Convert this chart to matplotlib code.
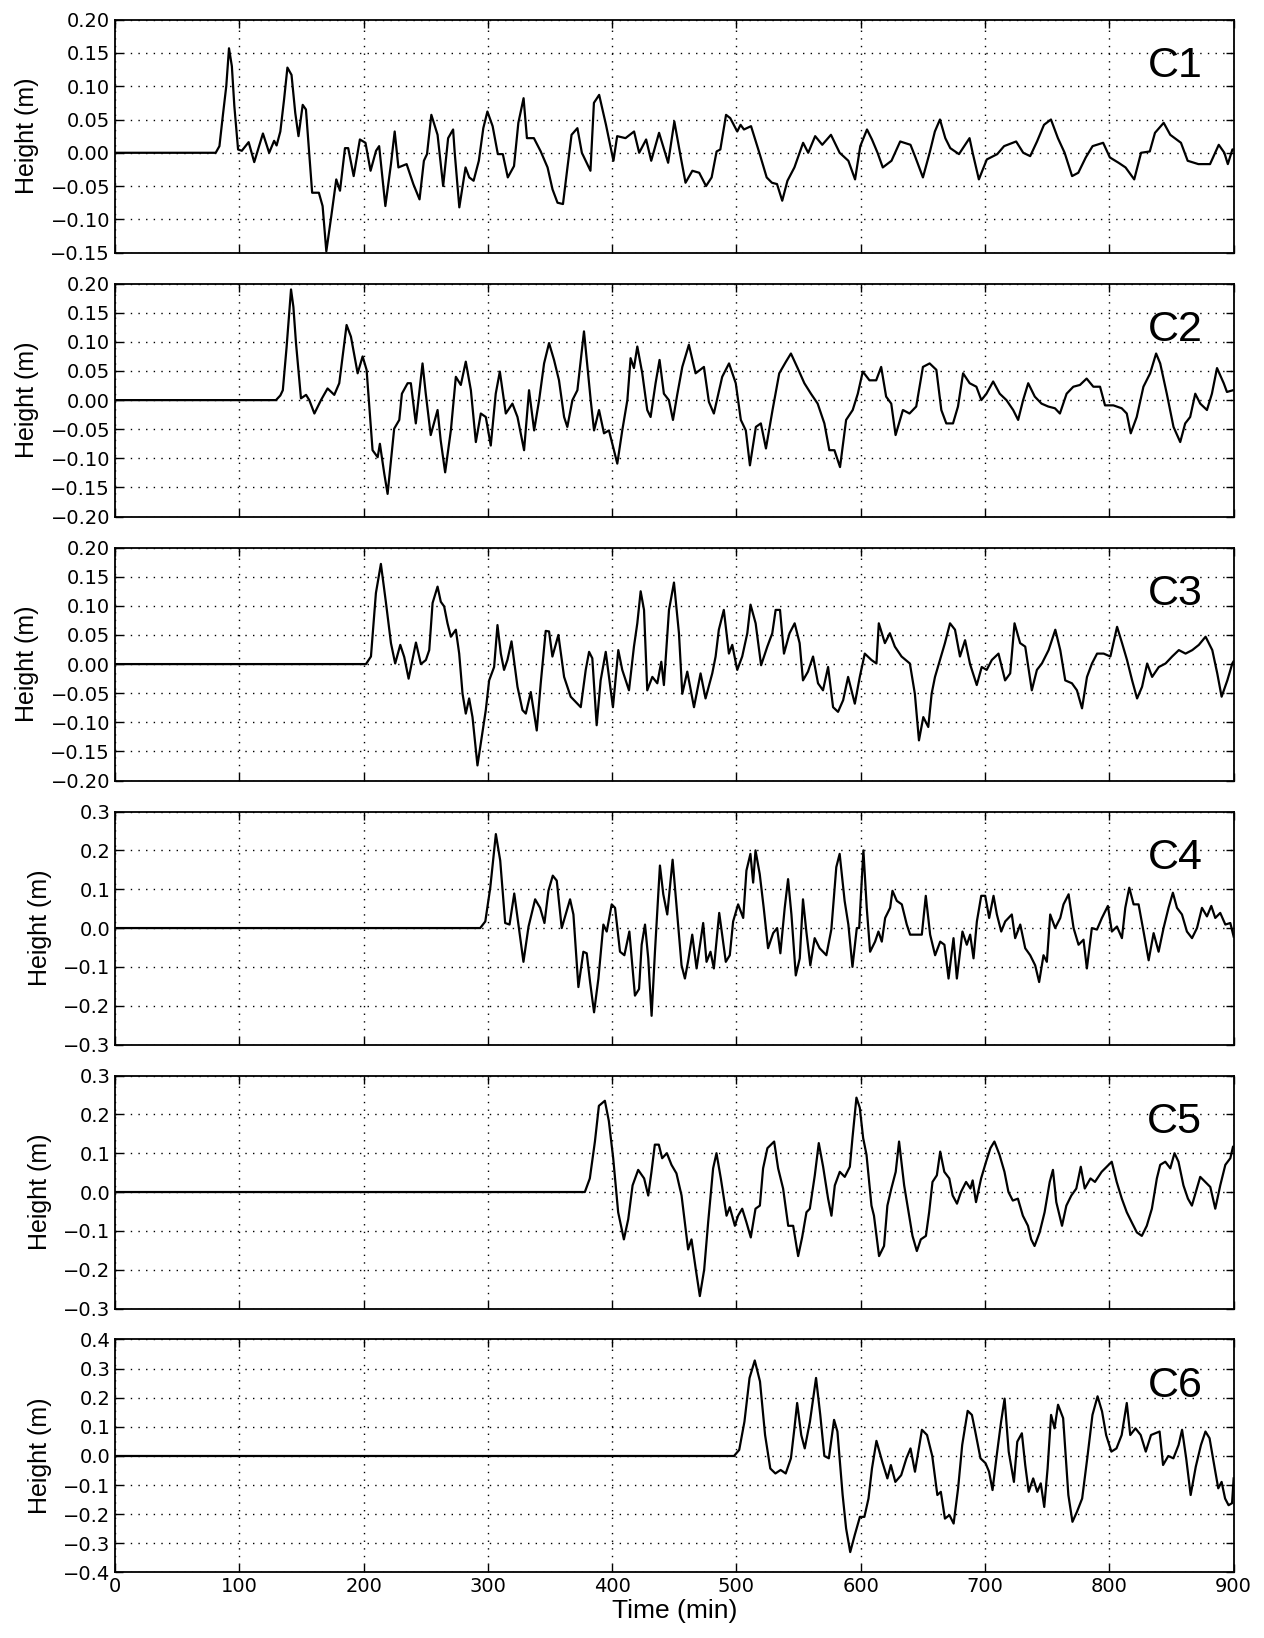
"""
Six stacked wave-gauge records C1..C6: height (m) against time (min).
"""

import matplotlib
matplotlib.use("Agg")
import matplotlib.pyplot as plt

# ---- data (time in min, height in m) ----
c1_t = [0, 81, 84, 87, 89.5, 91.7, 94, 96, 99, 102, 107.5, 112, 119, 124, 128, 130, 133, 136, 138.7, 142, 145,
        147.6, 151, 153.6, 158.6, 164, 167, 170, 174, 178, 181, 185, 187.6, 192, 197, 201.5, 205.6, 210, 212.5,
        217.5, 222, 225, 228, 234.6, 240, 245, 248.5, 251, 254.5, 259.5, 264, 268, 272, 273.3, 277, 282, 285,
        288.5, 292.7, 296.3, 299.6, 303.8, 308, 312, 316, 321, 324.5, 328.7, 331.4, 337, 342.5, 348, 352, 356,
        360.4, 364, 367.3, 372, 375.6, 382.5, 385.3, 389.5, 395, 401, 404, 410.7, 417.6, 421.7, 427.3, 431.4,
        437.7, 445, 450, 455, 459, 464.5, 470, 475.5, 480, 484, 487, 491.6, 495, 500.6, 503.3, 506, 511.7, 518.7,
        524.3, 528.5, 532.6, 536.8, 541, 546.6, 553.6, 557.7, 563.3, 569, 576, 583, 590, 595.4, 599.6, 605, 609,
        613.5, 617.7, 624.7, 631.7, 640, 644, 650, 655.4, 659.6, 663.7, 668, 672, 679, 687.5, 690, 695, 701.4,
        709.8, 715.3, 725, 730.7, 736.3, 741.8, 747.4, 753, 758.6, 764, 770, 775, 781, 786.5, 795, 800.4, 807.4,
        813, 820, 825.5, 832.5, 836.7, 843.7, 849, 857.6, 863, 871.6, 881, 888, 892.5, 895.3, 899, 900]
c1_h = [0, 0, 0.01, 0.06, 0.1, 0.157, 0.13, 0.07, 0.005, 0.003, 0.016, -0.014, 0.029, 0, 0.018, 0.011, 0.032, 0.08,
        0.128, 0.117, 0.06, 0.025, 0.072, 0.065, -0.06, -0.06, -0.08, -0.148, -0.095, -0.04, -0.057, 0.007, 0.007,
        -0.035, 0.02, 0.015, -0.027, 0.003, 0.01, -0.08, -0.017, 0.032, -0.022, -0.017, -0.047, -0.07, -0.012,
        -0.002, 0.057, 0.027, -0.05, 0.022, 0.035, 0, -0.082, -0.022, -0.037, -0.042, -0.012, 0.037, 0.062, 0.04,
        -0.002, -0.002, -0.037, -0.02, 0.045, 0.082, 0.022, 0.022, 0.002, -0.022, -0.055, -0.075, -0.077, -0.022,
        0.027, 0.037, 0, -0.027, 0.075, 0.087, 0.042, -0.012, 0.025, 0.022, 0.032, 0, 0.02, -0.012, 0.03, -0.015,
        0.047, -0.005, -0.045, -0.027, -0.03, -0.05, -0.037, 0.002, 0.005, 0.057, 0.052, 0.032, 0.042, 0.035,
        0.04, -0.002, -0.037, -0.045, -0.047, -0.072, -0.042, -0.022, 0.015, 0, 0.025, 0.012, 0.027, 0, -0.012,
        -0.04, 0.01, 0.035, 0.02, 0, -0.022, -0.012, 0.017, 0.012, -0.007, -0.037, 0, 0.032, 0.05, 0.022, 0.007,
        -0.002, 0.022, 0, -0.04, -0.01, -0.002, 0.01, 0.017, 0, -0.005, 0.017, 0.042, 0.05, 0.022, 0, -0.035,
        -0.03, -0.007, 0.01, 0.015, -0.007, -0.015, -0.022, -0.04, 0, 0.002, 0.03, 0.045, 0.027, 0.015, -0.012,
        -0.017, -0.017, 0.012, 0, -0.017, 0.005, 0.005]

c2_t = [0, 129.5, 133, 135, 138, 141.6, 143.5, 145.6, 149.6, 153.7, 156.3, 160.4, 165.7, 171, 176.4, 180.4, 186.3,
        189.8, 195.2, 199.2, 202.4, 207.2, 211.3, 213.1, 216.6, 219.3, 224.6, 228.7, 230.8, 235.4, 238, 242, 247.4,
        250, 254, 259.5, 262, 265.6, 270.2, 274.2, 278.2, 282.2, 286.3, 290.3, 294.3, 298.3, 302.3, 306.3, 309.6,
        314.4, 319.7, 323.8, 329.1, 333.1, 337.2, 341.2, 345.2, 349.2, 353.2, 357.2, 361.3, 363.9, 368, 372, 377.3,
        382.7, 385.4, 389.4, 393.4, 397.4, 401.4, 404.1, 408.1, 412.2, 414.8, 417.5, 420.2, 424.2, 428.2, 430.9,
        434.9, 438.1, 441.6, 445.6, 448.9, 452.3, 456.4, 461.7, 467.1, 473.8, 477.8, 481.8, 488.5, 494, 499.4,
        503.5, 507.5, 510.8, 515.6, 519.6, 523.7, 529, 534.4, 539.8, 543.8, 549.2, 554.6, 559.9, 565.3, 570.7,
        574.7, 578.8, 583.3, 588.2, 593.5, 597.6, 601.6, 607, 612.4, 616.4, 620.4, 624.5, 628, 633.9, 639.2, 644.6,
        650, 655.4, 660.8, 664.8, 668.8, 674.2, 678.2, 682.3, 687.6, 693, 697, 701.1, 706.5, 711.8, 717.2, 722.6,
        726.6, 730.6, 734.7, 740, 745.4, 750.8, 756.2, 760.2, 765.6, 771, 776.3, 781.7, 787.1, 792.5, 796.5, 803.2,
        809.9, 814, 817.2, 822, 827.4, 832.8, 837.6, 840.9, 846.2, 851.6, 857, 861, 865, 869.1, 873.1, 878.5,
        882.5, 886.6, 892, 894.6, 899.5, 900]
c2_h = [0, 0, 0.008, 0.017, 0.09, 0.19, 0.16, 0.098, 0.003, 0.009, 0, -0.023, 0, 0.02, 0.009, 0.029, 0.129, 0.109,
        0.046, 0.075, 0.052, -0.086, -0.098, -0.075, -0.126, -0.161, -0.049, -0.034, 0.011, 0.029, 0.029, -0.04,
        0.063, 0.011, -0.06, -0.017, -0.069, -0.124, -0.052, 0.04, 0.026, 0.066, 0.017, -0.072, -0.023, -0.029,
        -0.078, 0.011, 0.049, -0.023, -0.006, -0.029, -0.086, 0.017, -0.052, 0, 0.063, 0.098, 0.069, 0.034,
        -0.029, -0.046, 0, 0.017, 0.118, 0, -0.052, -0.017, -0.057, -0.052, -0.086, -0.109, -0.052, 0, 0.072,
        0.055, 0.092, 0.046, -0.017, -0.029, 0.029, 0.069, 0.011, 0, -0.034, 0.009, 0.057, 0.095, 0.046, 0.057,
        -0.003, -0.023, 0.04, 0.063, 0.029, -0.034, -0.052, -0.112, -0.046, -0.04, -0.083, -0.017, 0.046, 0.066,
        0.08, 0.055, 0.029, 0.011, -0.006, -0.04, -0.086, -0.086, -0.115, -0.034, -0.017, 0.011, 0.049, 0.034,
        0.034, 0.057, 0.006, -0.006, -0.06, -0.017, -0.023, -0.011, 0.057, 0.063, 0.052, -0.017, -0.04, -0.04,
        -0.011, 0.046, 0.029, 0.023, 0, 0.011, 0.032, 0.011, 0, -0.017, -0.034, 0, 0.029, 0.006, -0.006, -0.011,
        -0.014, -0.023, 0.011, 0.023, 0.026, 0.037, 0.023, 0.023, -0.009, -0.009, -0.014, -0.023, -0.057, -0.029,
        0.023, 0.046, 0.08, 0.063, 0.011, -0.046, -0.072, -0.04, -0.029, 0.011, -0.006, -0.017, 0.011, 0.055,
        0.029, 0.014, 0.017, 0.017]

c3_t = [0, 201.9, 205.9, 209.9, 213.9, 218, 222, 225.4, 229.5, 232.7, 236.2, 242.1, 246.1, 250.1, 252.8, 255.5,
        259.5, 262.1, 264.8, 267.5, 270.2, 274.2, 276.9, 279.6, 282.2, 284.9, 287.6, 291.6, 295.1, 298.3, 301, 305,
        307.7, 310.4, 313, 315.7, 319, 323.8, 327.8, 330.5, 334.5, 339.3, 342.5, 346.5, 349.2, 351.9, 356.7, 361.3,
        366.6, 374.7, 378.7, 381.4, 384, 387.5, 390.7, 394.8, 397.4, 400.6, 404.9, 408.1, 413.5, 417.5, 420.2,
        422.9, 425.6, 428.2, 432.3, 436.3, 439.5, 441.6, 445.7, 449.7, 453.7, 456.4, 460.4, 465.8, 471.1, 475.1,
        480.5, 483.2, 485.8, 489.8, 493.9, 496.6, 500.6, 504.6, 508.7, 511.3, 515.4, 519.8, 524.8, 528.8, 531.5,
        535, 538.2, 542.7, 546.8, 550.8, 553.5, 557.5, 561.6, 565.6, 569.6, 573.7, 577.7, 581.7, 585.8, 589.8,
        595.2, 599.2, 603.2, 608.6, 612.6, 614.5, 619.4, 623.4, 627.4, 632.8, 639.5, 643.5, 646.8, 650.3, 654.3,
        657, 659.7, 663.7, 667.7, 671.8, 675.8, 679.8, 683.9, 687.9, 693.3, 697.3, 701.3, 705.4, 710.8, 716.1,
        720.2, 723.7, 728.2, 732.3, 737.6, 741.7, 745.7, 751.1, 756.5, 760.5, 764.5, 769.9, 773.9, 778, 782, 786,
        790.1, 795.4, 800.8, 806.2, 810.2, 814.2, 818.3, 822.3, 826.3, 830.4, 834.4, 839.8, 845.2, 850.5, 855.9,
        861.3, 866.7, 872, 877.4, 882.8, 886.8, 890.3, 894.9, 898.9, 900]
c3_h = [0, 0, 0.013, 0.122, 0.172, 0.105, 0.036, 0.001, 0.033, 0.012, -0.025, 0.037, 0, 0.007, 0.024, 0.105, 0.133,
        0.107, 0.099, 0.07, 0.047, 0.059, 0.018, -0.051, -0.085, -0.059, -0.091, -0.174, -0.125, -0.079, -0.028,
        -0.005, 0.067, 0.018, -0.01, 0.007, 0.039, -0.039, -0.079, -0.085, -0.048, -0.114, -0.033, 0.057, 0.056,
        0.013, 0.05, -0.022, -0.056, -0.074, -0.01, 0.021, 0.01, -0.105, -0.028, 0.021, -0.022, -0.074, 0.024,
        -0.01, -0.045, 0.03, 0.07, 0.125, 0.093, -0.045, -0.022, -0.033, 0.004, -0.036, 0.093, 0.14, 0.053,
        -0.051, -0.013, -0.074, -0.016, -0.059, -0.016, 0.013, 0.059, 0.093, 0.018, 0.033, -0.01, 0.013, 0.053,
        0.102, 0.07, -0.002, 0.03, 0.053, 0.093, 0.093, 0.018, 0.053, 0.07, 0.036, -0.028, -0.013, 0.013, -0.033,
        -0.045, -0.005, -0.074, -0.082, -0.062, -0.022, -0.068, -0.022, 0.018, 0.007, 0.001, 0.07, 0.036, 0.053,
        0.03, 0.013, 0.001, -0.051, -0.131, -0.091, -0.108, -0.051, -0.022, 0.007, 0.036, 0.07, 0.059, 0.013,
        0.041, 0, -0.036, -0.005, -0.01, 0.007, 0.018, -0.028, -0.016, 0.07, 0.036, 0.03, -0.045, -0.01, 0.001,
        0.024, 0.059, 0.024, -0.028, -0.033, -0.045, -0.076, -0.022, 0.001, 0.018, 0.018, 0.013, 0.064, 0.036,
        0.007, -0.028, -0.059, -0.039, 0.001, -0.022, -0.005, 0.001, 0.013, 0.024, 0.018, 0.024, 0.033, 0.047,
        0.024, -0.016, -0.056, -0.028, 0.001, 0.005]

c4_t = [0, 293.8, 297.9, 301.9, 306.4, 309.9, 313.9, 317.4, 321.2, 324.6, 328.6, 332.7, 338, 342, 345.5, 348.7,
        352.2, 355.4, 359.4, 362.9, 366.1, 368.8, 372.8, 376.8, 379.5, 382.2, 385.4, 388.9, 392.9, 395.6, 399.6,
        402.3, 406.3, 409.8, 413.8, 418.3, 421.6, 423.7, 426.4, 429, 431.7, 434.4, 438.4, 441.1, 444.3, 448.6,
        452.3, 455.8, 458.5, 461.2, 464.4, 467.9, 473.2, 475.9, 479.1, 481.8, 486.1, 491.4, 494.6, 497.3, 501.3,
        505.4, 508, 511.2, 513.4, 515.3, 518.7, 521.9, 525.4, 529.5, 532.7, 535.3, 538.8, 541.5, 544.2, 547.7,
        550.9, 553.5, 556.2, 559.4, 562.9, 566.9, 572.3, 576.3, 580.3, 583, 587, 590, 593.3, 596.8, 598.7, 602.1,
        604.8, 607.5, 611.5, 614.2, 616.9, 619.6, 623.6, 625.5, 629, 633, 637, 639.7, 643.7, 649.1, 652.3, 655.8,
        659.8, 663.9, 667.3, 670.6, 674.6, 677.3, 681.8, 685.3, 688, 690.7, 693.4, 696.9, 700.1, 703.3, 706.8,
        709.5, 713, 716.2, 721.5, 724.2, 728.3, 732.3, 736.3, 740.3, 743.5, 747, 749.7, 752.4, 756.4, 760.5, 763.1,
        767.2, 771.2, 775.2, 779.2, 781.9, 785.9, 790, 794, 798.8, 802, 806.1, 810.1, 812.8, 816, 819.5, 823.5,
        827.5, 831.6, 835.6, 839.6, 843.6, 847.6, 851.1, 854.4, 858.4, 862.4, 866.5, 870.5, 874.5, 878.5, 882,
        885.2, 889.2, 893.3, 897.3, 900]
c4_h = [0, 0, 0.017, 0.104, 0.242, 0.174, 0.013, 0.009, 0.089, 0.009, -0.087, 0.004, 0.074, 0.052, 0.013, 0.096,
        0.135, 0.122, 0, 0.039, 0.074, 0.035, -0.152, -0.061, -0.065, -0.139, -0.217, -0.13, 0.009, -0.009, 0.061,
        0.052, -0.061, -0.07, -0.009, -0.174, -0.157, -0.043, 0.009, -0.078, -0.226, -0.061, 0.161, 0.087, 0.035,
        0.176, 0.035, -0.096, -0.13, -0.083, -0.017, -0.104, 0.013, -0.087, -0.061, -0.104, 0.039, -0.087, -0.07,
        0.017, 0.061, 0.026, 0.148, 0.191, 0.117, 0.2, 0.139, 0.052, -0.052, -0.013, 0, -0.065, 0.052, 0.126,
        0.035, -0.122, -0.078, 0.074, -0.009, -0.096, -0.026, -0.052, -0.07, -0.004, 0.157, 0.191, 0.07, 0.009,
        -0.1, 0, 0, 0.2, 0.052, -0.061, -0.035, -0.009, -0.035, 0.026, 0.052, 0.096, 0.07, 0.061, 0.009, -0.017,
        -0.017, -0.017, 0.083, -0.017, -0.07, -0.035, -0.043, -0.13, -0.026, -0.13, -0.009, -0.043, -0.017, -0.078,
        0.017, 0.083, 0.083, 0.026, 0.083, 0.035, -0.009, 0.017, 0.035, -0.026, 0.009, -0.052, -0.07, -0.096,
        -0.139, -0.07, -0.087, 0.035, 0, 0.026, 0.061, 0.087, 0, -0.043, -0.03, -0.104, 0, -0.004, 0.026, 0.057,
        -0.009, 0.004, -0.026, 0.052, 0.104, 0.061, 0.061, -0.009, -0.083, -0.013, -0.061, 0, 0.052, 0.091, 0.052,
        0.035, -0.009, -0.026, 0, 0.052, 0.03, 0.057, 0.026, 0.039, 0.009, 0.013, -0.022]

c5_t = [0, 378, 382, 386.1, 389.3, 394.1, 397.3, 400.8, 404.8, 409.4, 412.9, 416.4, 420.9, 425.7, 429, 431.6, 434.3,
        437.5, 440.2, 444, 447.7, 451.7, 455.8, 461.1, 463.8, 467.3, 470.5, 474, 477.2, 481.2, 483.9, 487.4, 492,
        494.6, 498.7, 501.3, 504.6, 508, 511.5, 515.3, 518.8, 521.4, 524.9, 530.3, 533.5, 537.5, 541.6, 545.6,
        549.6, 552.8, 556.3, 559, 563, 566.2, 569.7, 573.7, 576.4, 579.1, 583.1, 587.1, 591.2, 593.3, 596.5, 599.2,
        601.9, 604.6, 608.6, 610.6, 614.7, 618.7, 621.4, 624.6, 628.1, 630.8, 634.9, 637.6, 641.6, 645.1, 648.3,
        652.4, 655, 657.7, 661.2, 663.9, 667.2, 671.2, 673.9, 677.4, 680.6, 684.7, 688.2, 690, 692.7, 696.8, 700.8,
        704.3, 707.5, 711.6, 715.6, 718.8, 722.3, 726.4, 730.4, 734.5, 737.1, 739.8, 743.9, 747.9, 752, 754.6,
        757.3, 761.9, 765.4, 769.4, 773.4, 777, 780.2, 784.8, 788.4, 793.8, 797.8, 801.9, 805.9, 810, 814, 818,
        822.1, 826.1, 830.1, 834.2, 838.2, 840.9, 845, 849, 852.4, 855.6, 859.6, 863.2, 866.4, 870.4, 873.1, 877.1,
        881.2, 885.2, 889.2, 893.3, 897.3, 899.5, 900]
c5_h = [0, 0, 0.035, 0.13, 0.222, 0.235, 0.183, 0.087, -0.052, -0.122, -0.07, 0.017, 0.057, 0.035, -0.009, 0.052,
        0.122, 0.122, 0.087, 0.1, 0.07, 0.048, -0.009, -0.148, -0.122, -0.2, -0.268, -0.2, -0.078, 0.061, 0.1,
        0.035, -0.061, -0.039, -0.087, -0.061, -0.043, -0.078, -0.117, -0.043, -0.035, 0.061, 0.113, 0.13, 0.061,
        0.009, -0.087, -0.087, -0.165, -0.117, -0.052, -0.043, 0.043, 0.126, 0.065, -0.017, -0.061, 0.017, 0.052,
        0.039, 0.065, 0.139, 0.243, 0.217, 0.139, 0.096, -0.035, -0.061, -0.165, -0.139, -0.035, 0.009, 0.052,
        0.13, 0.017, -0.035, -0.113, -0.152, -0.122, -0.113, -0.052, 0.026, 0.043, 0.104, 0.052, 0.035, -0.009,
        -0.03, 0, 0.026, 0.009, 0.03, -0.026, 0.035, 0.078, 0.113, 0.13, 0.096, 0.052, 0, -0.022, -0.017, -0.061,
        -0.087, -0.122, -0.139, -0.104, -0.052, 0.026, 0.057, -0.026, -0.087, -0.035, -0.009, 0.009, 0.065, 0.009,
        0.035, 0.026, 0.052, 0.065, 0.078, 0.026, -0.017, -0.052, -0.078, -0.104, -0.113, -0.087, -0.043, 0.035,
        0.07, 0.078, 0.061, 0.1, 0.078, 0.017, -0.017, -0.035, 0.009, 0.039, 0.026, 0.013, -0.043, 0.017, 0.07,
        0.087, 0.117, 0.117]

c6_t = [0, 498, 502.2, 506.4, 510.5, 514.7, 518.9, 523, 527.2, 531.3, 535.5, 539.6, 543.8, 546.6, 548.8, 552.1,
        554.9, 559.1, 564, 567.4, 570.7, 574.3, 578.5, 581.2, 585.4, 588.2, 591.5, 595.1, 599.3, 602.9, 606.2, 609,
        612.6, 617.3, 621.4, 624.2, 627.8, 632.5, 636.7, 640, 643.6, 649.2, 653.3, 657.5, 661.6, 664.4, 667.7,
        671.3, 674.7, 678.3, 681.6, 686, 689.4, 692.1, 696.3, 700.4, 703.2, 706, 709.3, 712.9, 715.7, 719, 723.2,
        725.9, 729.6, 732.3, 735.1, 738.7, 742, 744.8, 747.6, 750.3, 753.1, 755.9, 758.7, 762.8, 767, 770.3, 773.9,
        778.1, 782.2, 786.4, 790.5, 794.1, 797.4, 801.6, 805.7, 809.9, 814, 816.8, 821, 825.2, 829.3, 833.5, 840.4,
        843.2, 847.4, 851.5, 855.7, 858.5, 861.8, 865.4, 869.5, 873.7, 877.3, 880.6, 884.8, 887.6, 890.3, 893.1,
        895.9, 898.7, 900]
c6_h = [0, 0, 0.021, 0.118, 0.268, 0.328, 0.256, 0.072, -0.043, -0.06, -0.048, -0.06, -0.008, 0.095, 0.182, 0.072,
        0.026, 0.118, 0.268, 0.141, 0, -0.008, 0.124, 0.084, -0.134, -0.249, -0.33, -0.272, -0.209, -0.209, -0.146,
        -0.043, 0.052, -0.02, -0.077, -0.031, -0.089, -0.066, -0.008, 0.026, -0.054, 0.09, 0.072, 0, -0.134,
        -0.123, -0.215, -0.203, -0.232, -0.111, 0.038, 0.155, 0.141, 0.084, -0.008, -0.025, -0.054, -0.117, 0,
        0.118, 0.197, 0.015, -0.089, 0.049, 0.078, -0.031, -0.123, -0.077, -0.123, -0.094, -0.175, -0.043, 0.141,
        0.095, 0.176, 0.13, -0.134, -0.226, -0.192, -0.146, -0.008, 0.141, 0.205, 0.153, 0.072, 0.015, 0.026,
        0.072, 0.182, 0.072, 0.095, 0.072, 0.015, 0.072, 0.084, -0.031, 0, -0.008, 0.038, 0.09, -0.008, -0.134,
        -0.037, 0.038, 0.084, 0.061, -0.043, -0.111, -0.089, -0.146, -0.169, -0.162, -0.077]

gauge_names = ["C1", "C2", "C3", "C4", "C5", "C6"]
gauge_times = [c1_t, c2_t, c3_t, c4_t, c5_t, c6_t]
gauge_heights = [c1_h, c2_h, c3_h, c4_h, c5_h, c6_h]

# y 轴范围与刻度间隔
y_ranges = [(-0.15, 0.20), (-0.20, 0.20), (-0.20, 0.20), (-0.3, 0.3), (-0.3, 0.3), (-0.4, 0.4)]
y_steps = [0.05, 0.05, 0.05, 0.1, 0.1, 0.1]
x_ticks = [0, 100, 200, 300, 400, 500, 600, 700, 800, 900]

LABEL_FONT = ["Liberation Sans", "DejaVu Sans"]


def make_ticks(lo, hi, step):
    """Tick positions from lo to hi inclusive."""
    n = int(round((hi - lo) / step))
    return [round(lo + i * step, 3) for i in range(n + 1)]


def draw_panel(ax, name, t, h, y_range, y_step):
    """One gauge record."""
    ax.plot(t, h, color="black", linewidth=1.6)
    ax.set_xlim(0, 900)
    ax.set_ylim(*y_range)
    ax.set_yticks(make_ticks(y_range[0], y_range[1], y_step))
    ax.set_xticks(x_ticks)
    ax.grid(True, color="black", linestyle=(0, (1, 4.5)), linewidth=1.0)
    ax.tick_params(direction="in", top=True, right=True, length=6, width=1, labelsize=14)
    for sp in ax.spines.values():
        sp.set_linewidth(1.3)
    ax.set_ylabel("Height (m)", family=LABEL_FONT, fontsize=18, labelpad=8)
    ax.text(0.972, 0.80, name, transform=ax.transAxes, ha="right", va="center",
            family=LABEL_FONT, fontsize=31)


def main():
    fig, axes = plt.subplots(6, 1, sharex=True, figsize=(12.64, 16.38), dpi=100)
    fig.patch.set_facecolor("white")
    fig.subplots_adjust(left=0.091, right=0.976, top=0.988, bottom=0.040, hspace=0.133)

    for ax, name, t, h, yr, ys in zip(axes, gauge_names, gauge_times, gauge_heights, y_ranges, y_steps):
        draw_panel(ax, name, t, h, yr, ys)

    axes[-1].set_xlabel("Time (min)", family=LABEL_FONT, fontsize=19, labelpad=2)
    fig.savefig("out.png", dpi=100, facecolor="white")
    plt.close(fig)


if __name__ == "__main__":
    main()
